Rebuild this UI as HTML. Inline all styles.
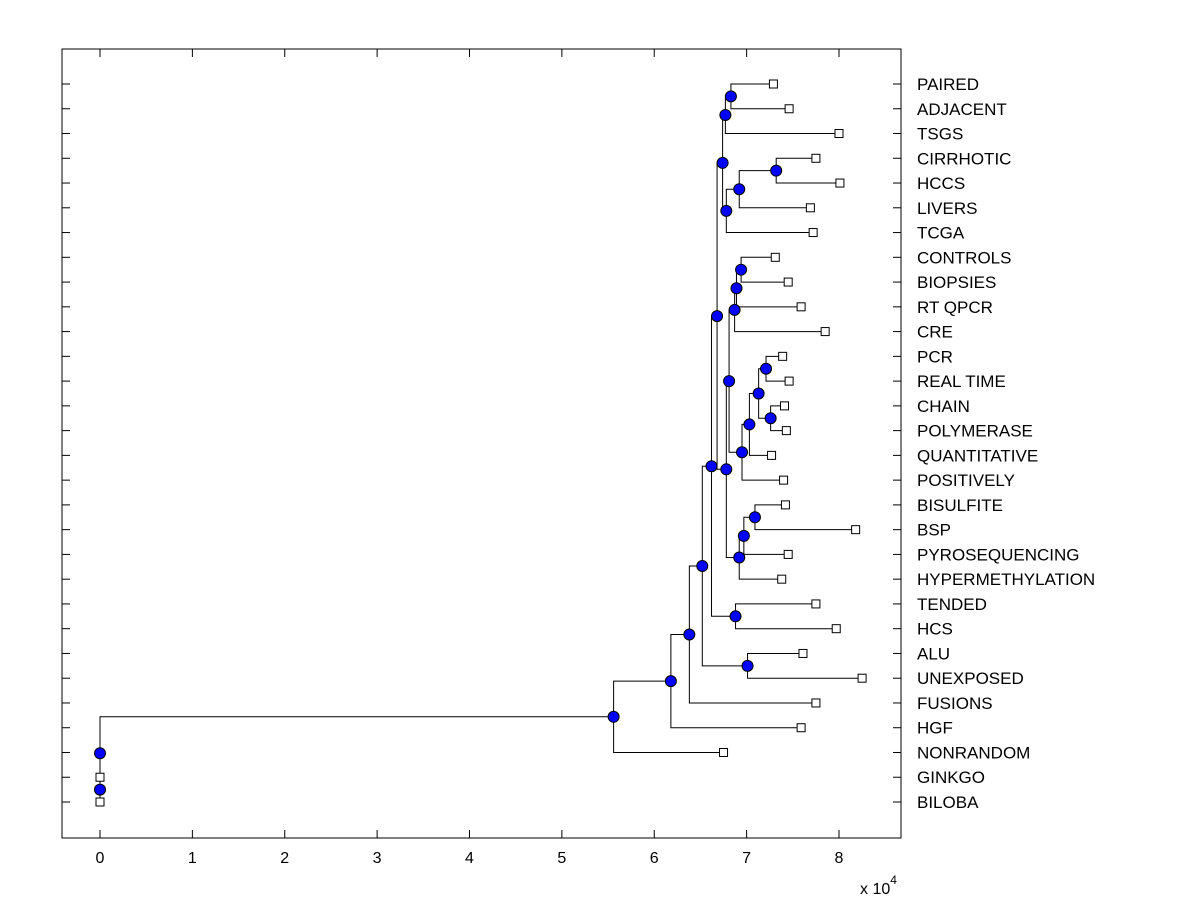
<!DOCTYPE html>
<html><head><meta charset="utf-8"><style>
html,body{margin:0;padding:0;background:#fff;}
svg{display:block;font-family:"Liberation Sans",Arial,sans-serif;}
</style></head><body>
<svg id="chart" width="1200" height="900" viewBox="0 0 1200 900">
<rect x="0" y="0" width="1200" height="900" fill="#fff"/>
<g id="plot"></g>
</svg>
<script>
const leafLabels = ["PAIRED","ADJACENT","TSGS","CIRRHOTIC","HCCS","LIVERS","TCGA","CONTROLS","BIOPSIES","RT QPCR","CRE","PCR","REAL TIME","CHAIN","POLYMERASE","QUANTITATIVE","POSITIVELY","BISULFITE","BSP","PYROSEQUENCING","HYPERMETHYLATION","TENDED","HCS","ALU","UNEXPOSED","FUSIONS","HGF","NONRANDOM","GINKGO","BILOBA"];
const leafValues = [7.29,7.46,8.00,7.75,8.01,7.69,7.72,7.31,7.45,7.59,7.85,7.39,7.46,7.41,7.43,7.27,7.40,7.42,8.18,7.45,7.38,7.75,7.97,7.61,8.25,7.75,7.59,6.75,0,0];
const nodeLeft  = [0,30,3,32,33,31,7,36,37,11,13,39,41,42,38,17,45,46,44,35,21,49,23,51,53,54,55,28,56];
const nodeRight = [1,2,4,5,6,34,8,9,10,12,14,40,15,16,43,18,19,20,47,48,22,50,24,52,25,26,27,29,57];
const nodeValues = [6.83,6.77,7.32,6.92,6.78,6.74,6.94,6.89,6.87,7.21,7.26,7.13,7.03,6.95,6.81,7.09,6.97,6.92,6.78,6.68,6.88,6.62,7.01,6.52,6.38,6.18,5.56,0,0];
const xTicks = [0,1,2,3,4,5,6,7,8];

const NS = "http://www.w3.org/2000/svg";
const L = 62, R = 901, T = 49, B = 838;
function xScale(v){ return 100 + v * 92.375; }
function yScale(i){ return 84 + i * (802 - 84) / (leafLabels.length - 1); }
const plot = document.getElementById('plot');
function mk(tag, attrs){ const e = document.createElementNS(NS, tag); for (const k in attrs) e.setAttribute(k, attrs[k]); return e; }

const box = mk('rect', {x:L, y:T, width:R-L, height:B-T, fill:'none', stroke:'#000', 'stroke-width':1});


plot.appendChild(box);

xTicks.forEach(t => {
  const x = xScale(t);
  const g = mk('g', {});
  
  
  g.appendChild(mk('line', {x1:x, y1:B, x2:x, y2:B-8, stroke:'#000'}));
  g.appendChild(mk('line', {x1:x, y1:T, x2:x, y2:T+8, stroke:'#000'}));
  const tx = mk('text', {x:x, y:B+25, 'font-size':16, 'text-anchor':'middle', fill:'#000'});
  tx.textContent = String(t);
  g.appendChild(tx);
  plot.appendChild(g);
});
const ex = mk('text', {x:860, y:894, 'font-size':16, fill:'#000'});


ex.innerHTML = 'x 10<tspan dy="-10" font-size="12">4</tspan>';
plot.appendChild(ex);

leafLabels.forEach((lab, i) => {
  const y = yScale(i);
  const g = mk('g', {});
  
  
  g.appendChild(mk('line', {x1:L, y1:y, x2:L+8, y2:y, stroke:'#000'}));
  g.appendChild(mk('line', {x1:R, y1:y, x2:R-8, y2:y, stroke:'#000'}));
  const tx = mk('text', {x:917, y:y+6, 'font-size':17, fill:'#000'});
  tx.textContent = lab;
  g.appendChild(tx);
  plot.appendChild(g);
});

const nLeaf = leafLabels.length;
const px = [], py = [];
leafValues.forEach((v, i) => { px[i] = xScale(v); py[i] = yScale(i); });
nodeValues.forEach((v, k) => {
  const id = nLeaf + k;
  px[id] = xScale(v);
  py[id] = (py[nodeLeft[k]] + py[nodeRight[k]]) / 2;
});

const links = mk('g', {});


nodeValues.forEach((v, k) => {
  const id = nLeaf + k, a = nodeLeft[k], b = nodeRight[k];
  const d = `M${px[a]},${py[a]}H${px[id]}V${py[b]}H${px[b]}`;
  const p = mk('path', {d:d, fill:'none', stroke:'#000', 'stroke-width':1});
  
  
  links.appendChild(p);
});
plot.appendChild(links);

leafValues.forEach((v, i) => {
  const s = mk('rect', {x:px[i]-4, y:py[i]-4, width:8, height:8, fill:'#fff', stroke:'#000', 'stroke-width':1});
  
  
  plot.appendChild(s);
});
nodeValues.forEach((v, k) => {
  const id = nLeaf + k;
  const c = mk('circle', {cx:px[id], cy:py[id], r:5.5, fill:'#0000ff', stroke:'#000', 'stroke-width':1});
  
  
  plot.appendChild(c);
});
</script>
</body></html>
